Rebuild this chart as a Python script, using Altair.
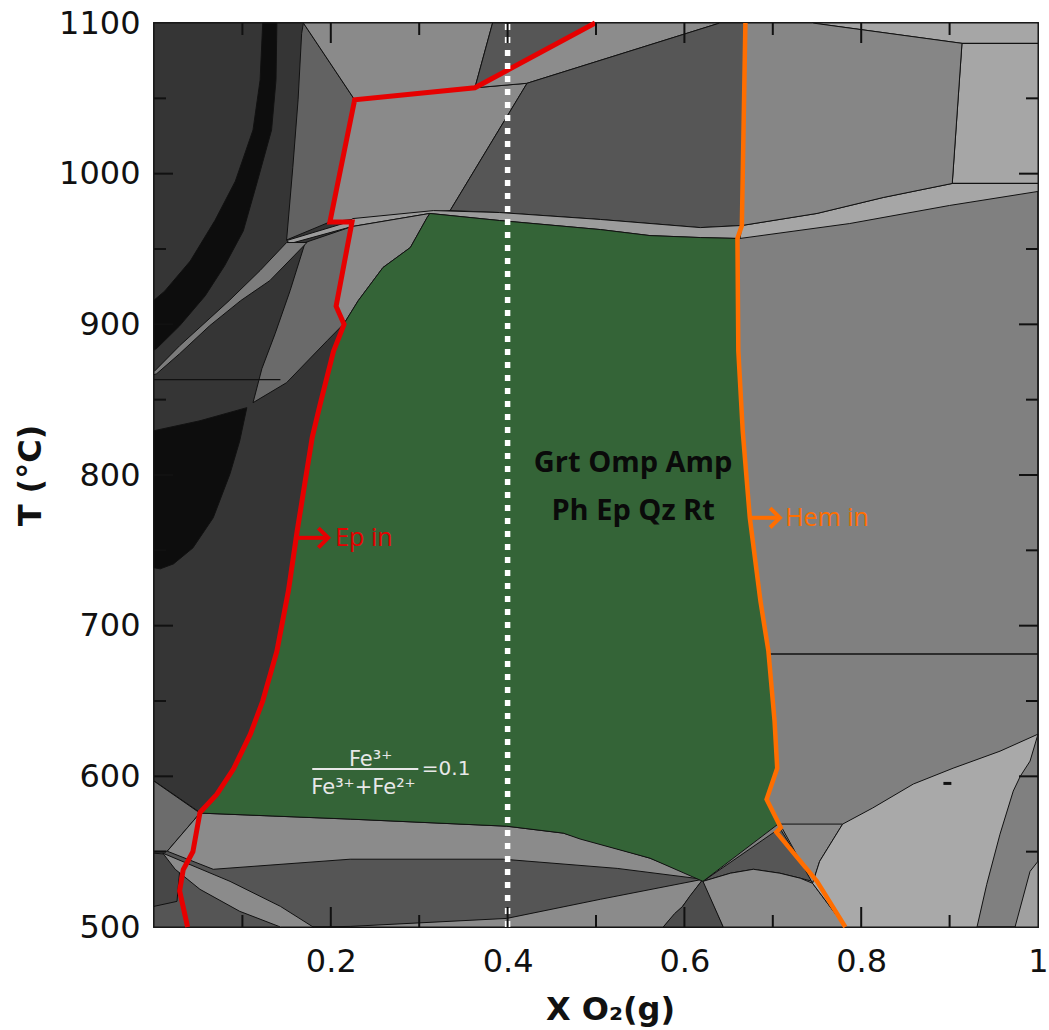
import altair as alt
import pandas as pd

# ---------------- axis data ----------------
X_DOMAIN = [0, 1]
T_DOMAIN = [500, 1100]
X_LABELS = [0.2, 0.4, 0.6, 0.8, 1.0]
T_LABELS = [500, 600, 700, 800, 900, 1000, 1100]
X_MAJOR_TICKS = [0.2, 0.4, 0.6, 0.8]
X_MINOR_TICKS = [0.1, 0.3, 0.5, 0.7, 0.9]
T_MAJOR_TICKS = [600, 700, 800, 900, 1000]
T_MINOR_TICKS = [550, 650, 750, 850, 950, 1050]

# ---------------- phase-field polygons (X O2, T degC) ----------------
LEFT_DARK = [(0, 1100), (0.169, 1100), (0.227, 1049), (0.199, 968), (0.224, 968), (0.206, 912), (0.215, 900),
             (0.203, 882), (0.188, 847), (0.179, 825), (0.162, 763), (0.152, 723), (0.139, 683), (0.123, 650),
             (0.109, 628), (0.090, 605), (0.071, 588), (0.052, 576), (0, 597)]
BLACK_BAND = [(0.123, 1100), (0.120, 1062), (0.112, 1029), (0.092, 995), (0.069, 969), (0.041, 942), (0.012, 922),
              (0, 916), (0, 883), (0.003, 884), (0.029, 899), (0.058, 919), (0.080, 939), (0.101, 962),
              (0.117, 995), (0.133, 1029), (0.138, 1062), (0.139, 1100)]
FIELD_B = [(0.169, 1100), (0.227, 1049), (0.199, 968), (0.150, 956), (0.157, 1004), (0.163, 1049), (0.167, 1093)]
FIELD_A = [(0.169, 1100), (0.383, 1100), (0.363, 1057), (0.422, 1060), (0.335, 975.5), (0.316, 975),
           (0.224, 969.6), (0.199, 968), (0.227, 1049)]
FIELD_E = [(0.383, 1100), (0.499, 1100), (0.363, 1057)]
FIELD_F = [(0.363, 1057), (0.499, 1100), (0.640, 1100), (0.422, 1060)]
FIELD_C = [(0.422, 1060), (0.640, 1100), (0.669, 1100), (0.665, 965.6), (0.618, 964.2), (0.505, 969.6),
           (0.391, 974.2), (0.335, 975.5)]
FIELD_TR = [(0.745, 1100), (1, 1100), (1, 988.2), (0.900, 978.9), (0.787, 966.9), (0.663, 957.0), (0.665, 965.6),
            (0.750, 973.6), (0.825, 984.2), (0.903, 993.5), (0.914, 1086.5)]
FIELD_D = [(0.669, 1100), (0.745, 1100), (0.914, 1086.5), (0.903, 993.5), (0.825, 984.2), (0.750, 973.6),
           (0.665, 965.6)]
BAND = [(0.150, 955.6), (0.218, 967.6), (0.225, 970.2), (0.316, 975.5), (0.391, 974.2), (0.505, 969.6),
        (0.618, 964.2), (0.665, 965.6), (0.660, 957), (0.618, 957.6), (0.561, 958.9), (0.505, 962.9),
        (0.391, 968.9), (0.312, 973.6), (0.224, 964.9), (0.154, 953.6)]
FIELD_M = [(0.224, 964.9), (0.312, 973.6), (0.309, 970.9), (0.290, 951.0), (0.259, 937.7), (0.231, 915.7),
           (0.215, 900.5), (0.206, 912.4)]
FIELD_L = [(0.171, 954.3), (0.224, 964.9), (0.206, 912.4), (0.215, 900.5), (0.196, 889.2), (0.150, 861.3),
           (0.112, 848.0), (0.122, 870.5), (0.137, 893.8), (0.154, 922.4)]
DIAG = [(0.150, 954.3), (0.173, 954.3), (0.131, 929.0), (0.098, 915.7), (0.063, 899.1), (0.029, 880.5),
        (0.003, 867.2), (0, 866.6), (0, 868.6), (0.029, 885.8), (0.085, 915.7), (0.120, 935.7)]
BLOB = [(0, 829.4), (0.052, 836.0), (0.105, 844.7), (0.097, 822.7), (0.086, 800.8), (0.067, 771.6),
        (0.044, 751.6), (0.022, 741.0), (0.007, 737.7), (0, 738.4)]
BOTTOM_BASE = [(0, 596.8), (0.052, 575.6), (0.222, 571.6), (0.399, 566.9), (0.463, 562.3), (0.561, 545.7),
               (0.621, 531.7), (0.644, 500), (0, 500)]
BL_SMALL = [(0, 596.8), (0.052, 575.6), (0.015, 550.3), (0, 550.3)]
BL_DARK = [(0, 549), (0.012, 548.4), (0.029, 537), (0.026, 517), (0, 513.7)]
FIELD_O = [(0.052, 575.6), (0.222, 571.6), (0.399, 566.9), (0.463, 562.3), (0.561, 545.7), (0.621, 531.7),
           (0.524, 538.9), (0.395, 545.0), (0.222, 545.0), (0.067, 538.3), (0.015, 550.3)]
FIELD_Q = [(0.180, 500), (0.222, 500.4), (0.399, 505.7), (0.505, 518.4), (0.621, 531.7), (0.598, 513.7),
           (0.576, 500)]
DIAG_BL = [(0.010, 549.0), (0.086, 530.3), (0.143, 513.7), (0.180, 500), (0.143, 500), (0.097, 510.4),
           (0.052, 525.0), (0.024, 538.3)]
FIELD_R = [(0.621, 531.7), (0.644, 500), (0.576, 500), (0.589, 509.0), (0.598, 513.7), (0.606, 520.4)]
FIELD_S = [(0.621, 530.3), (0.708, 565.6), (0.745, 530.3), (0.731, 532.4), (0.708, 535.7), (0.678, 538.3),
           (0.652, 535.7)]
FIELD_T = [(0.621, 530.3), (0.652, 535.7), (0.678, 538.3), (0.708, 535.7), (0.731, 532.4), (0.745, 529.0),
           (0.782, 500), (0.644, 500)]
FIELD_T2 = [(0.708, 568.3), (0.779, 568.3), (0.753, 543.6), (0.745, 529.0)]
FIELD_U = [(0.779, 568.3), (0.813, 579.0), (0.859, 594.9), (0.904, 605.4), (0.957, 616.7), (1, 628.0),
           (0.991, 610.1), (0.980, 600.1), (0.972, 590.2), (0.957, 561.6), (0.942, 528.3), (0.931, 500),
           (0.782, 500), (0.745, 529.0), (0.753, 543.6)]
BR_SLIVER = [(0.991, 536.9), (1, 543.6), (1, 500), (0.974, 500)]
GREEN_FIELD = [(0.052, 575.6), (0.071, 588), (0.090, 605), (0.109, 628), (0.123, 650), (0.139, 683), (0.152, 723),
               (0.162, 763), (0.179, 825), (0.188, 847), (0.203, 882), (0.215, 900.5), (0.231, 915.7),
               (0.259, 937.7), (0.290, 951.0), (0.309, 970.9), (0.312, 973.6), (0.391, 968.9), (0.505, 962.9),
               (0.561, 958.9), (0.618, 957.6), (0.660, 957), (0.661, 882.4), (0.666, 829), (0.674, 771.6),
               (0.686, 716.4), (0.695, 683.2), (0.702, 636.7), (0.705, 605.4), (0.693, 584.8), (0.706, 568.3),
               (0.621, 530.3), (0.561, 545.7), (0.482, 558.4), (0.463, 562.3), (0.399, 566.9), (0.222, 571.6)]

# extra boundary segments
H_LINE_LEFT = [(0, 863.3), (0.143, 863.3)]
H_LINE_RIGHT = [(0.697, 681.2), (1, 681.2)]
TR_LINE_1 = [(0.914, 1086.5), (1, 1086.5)]
TR_LINE_2 = [(0.903, 993.5), (1, 993.5)]
SMALL_DASH = [(0.893, 595.3), (0.902, 595.3)]

# reaction lines
EP_IN_LINE = [(0.499, 1100), (0.363, 1057), (0.227, 1049), (0.199, 968), (0.224, 968), (0.206, 912), (0.215, 900),
              (0.203, 882), (0.188, 847), (0.179, 825), (0.162, 763), (0.152, 723), (0.139, 683), (0.123, 650),
              (0.109, 628), (0.090, 605), (0.071, 588), (0.052, 576), (0.044, 550), (0.033, 538), (0.029, 524),
              (0.038, 500)]
HEM_IN_LINE = [(0.669, 1100), (0.665, 965.6), (0.660, 957), (0.661, 882.4), (0.666, 829), (0.674, 771.6),
               (0.686, 716.4), (0.695, 683.2), (0.702, 636.7), (0.705, 605.4), (0.693, 584.8), (0.709, 566),
               (0.704, 563), (0.750, 530.3), (0.782, 500)]
DOTTED_X = 0.4

# arrows (x start, x tip, T)
EP_ARROW = (0.161, 0.197, 758.3)
HEM_ARROW = (0.674, 0.708, 771.6)

# labels
FIELD_LABEL = [("Grt Omp Amp", 0.542, 808), ("Ph Ep Qz Rt", 0.542, 776)]
EP_LABEL = ("Ep in", 0.205, 758.3)
HEM_LABEL = ("Hem in", 0.714, 771.6)
FRAC_NUM = ("Fe³⁺", 0.245, 607)
FRAC_DEN = ("Fe³⁺+Fe²⁺", 0.237, 588.5)
FRAC_BAR = (0.179, 0.299, 604.8)
FRAC_EQ = ("=0.1", 0.303, 604.8)

# ---------------- chart ----------------
W, H = 884, 904
xs = alt.Scale(domain=X_DOMAIN, nice=False, zero=False)
ys = alt.Scale(domain=T_DOMAIN, nice=False, zero=False)

RED = "#e60000"
ORANGE = "#ff6e00"

x_axis = alt.Axis(values=X_LABELS, labelExpr="datum.value == 1 ? '1' : format(datum.value, '.1f')",
                  title="X O₂(g)", ticks=False, tickSize=0, domain=False, grid=False,
                  labelFont="DejaVu Sans", labelFontSize=32, labelColor="#111111", labelPadding=19,
                  labelFlush=False, titleFont="DejaVu Sans", titleFontSize=32, titleFontWeight="bold",
                  titleColor="#111111", titleX=456, titleY=92, titleAlign="center", titleBaseline="alphabetic")
y_axis = alt.Axis(values=T_LABELS, format="d", title="T (°C)", ticks=False, tickSize=0, domain=False, grid=False,
                  labelFont="DejaVu Sans", labelFontSize=32, labelColor="#111111", labelPadding=14,
                  labelFlush=False, titleFont="DejaVu Sans", titleFontSize=32, titleFontWeight="bold",
                  titleColor="#111111", titleX=-124, titleY=452, titleAngle=270, titleAlign="center",
                  titleBaseline="middle")


def pts_df(pts, close=False):
    pts = list(pts) + ([pts[0]] if close else [])
    return pd.DataFrame({"x": [p[0] for p in pts], "y": [p[1] for p in pts], "i": list(range(len(pts)))})


def X():
    return alt.X("x:Q", scale=xs, axis=x_axis)


def Y():
    return alt.Y("y:Q", scale=ys, axis=y_axis)


def poly(pts, fill):
    return alt.Chart(pts_df(pts, close=True)).mark_line(
        fill=fill, stroke="#111111", strokeWidth=1, strokeJoin="round"
    ).encode(x=X(), y=Y(), order=alt.Order("i:Q"))


def path(pts, color, width, dash=None):
    kw = dict(stroke=color, strokeWidth=width, strokeJoin="miter")
    if dash:
        kw["strokeDash"] = dash
    return alt.Chart(pts_df(pts)).mark_line(**kw).encode(x=X(), y=Y(), order=alt.Order("i:Q"))


layers = [
    poly(LEFT_DARK, "#353535"),
    poly(BLACK_BAND, "#0d0d0d"),
    poly(FIELD_B, "#626262"),
    poly(FIELD_A, "#8a8a8a"),
    poly(FIELD_E, "#565656"),
    poly(FIELD_F, "#8c8c8c"),
    poly(FIELD_C, "#565656"),
    poly(FIELD_TR, "#a6a6a6"),
    poly(FIELD_D, "#868686"),
    poly(BAND, "#9c9c9c"),
    poly(FIELD_M, "#8a8a8a"),
    poly(FIELD_L, "#6a6a6a"),
    poly(DIAG, "#7c7c7c"),
    poly(BLOB, "#0d0d0d"),
    poly(BOTTOM_BASE, "#555555"),
    poly(BL_SMALL, "#6c6c6c"),
    poly(BL_DARK, "#474747"),
    poly(FIELD_O, "#8b8b8b"),
    poly(FIELD_Q, "#8b8b8b"),
    poly(DIAG_BL, "#8b8b8b"),
    poly(FIELD_R, "#4d4d4d"),
    poly(FIELD_S, "#565656"),
    poly(FIELD_T, "#8c8c8c"),
    poly(FIELD_T2, "#8a8a8a"),
    poly(FIELD_U, "#a9a9a9"),
    poly(BR_SLIVER, "#a0a0a0"),
    poly(GREEN_FIELD, "#346437"),
    path(H_LINE_LEFT, "#111111", 1.2),
    path(H_LINE_RIGHT, "#111111", 1.5),
    path(TR_LINE_1, "#111111", 1.2),
    path(TR_LINE_2, "#111111", 1.2),
    path(SMALL_DASH, "#111111", 3),
    path(EP_IN_LINE, RED, 5),
    path(HEM_IN_LINE, ORANGE, 4.5),
]

# dotted white line
layers.append(
    alt.Chart(pd.DataFrame({"x": [DOTTED_X], "y": [T_DOMAIN[0]], "y2": [T_DOMAIN[1]]}))
    .mark_rule(color="white", strokeWidth=5.5, strokeDash=[6, 7])
    .encode(x=X(), y=Y(), y2="y2:Q")
)

# arrows
for (x0, x1, t), col in [(EP_ARROW, RED), (HEM_ARROW, ORANGE)]:
    layers.append(
        alt.Chart(pd.DataFrame({"x": [x0], "x2": [x1 - 0.003], "y": [t]}))
        .mark_rule(color=col, strokeWidth=4)
        .encode(x=X(), x2="x2:Q", y=Y())
    )
    layers.append(
        alt.Chart(pd.DataFrame({"x": [x1], "y": [t]}))
        .mark_point(shape="M-1,-1L0,0L-1,1", size=380, filled=False, strokeWidth=4, color=col, opacity=1)
        .encode(x=X(), y=Y())
    )


def text(items, **kw):
    df = pd.DataFrame({"t": [i[0] for i in items], "x": [i[1] for i in items], "y": [i[2] for i in items]})
    return alt.Chart(df).mark_text(**kw).encode(x=X(), y=Y(), text="t:N")


layers.append(text(FIELD_LABEL, font="Open Sans", fontSize=29, fontWeight="bold", color="#0a0a0a",
                   align="center", baseline="middle"))
layers.append(text([EP_LABEL], font="Open Sans", fontSize=25, color=RED, align="left", baseline="middle"))
layers.append(text([HEM_LABEL], font="Open Sans", fontSize=25, color=ORANGE, align="left", baseline="middle"))
layers.append(text([FRAC_NUM], font="DejaVu Sans", fontSize=21, color="#e8e8e8", align="center",
                   baseline="alphabetic"))
layers.append(text([FRAC_DEN], font="DejaVu Sans", fontSize=21, color="#e8e8e8", align="center",
                   baseline="alphabetic"))
layers.append(text([FRAC_EQ], font="DejaVu Sans", fontSize=20, color="#e8e8e8", align="left", baseline="middle"))
layers.append(
    alt.Chart(pd.DataFrame({"x": [FRAC_BAR[0]], "x2": [FRAC_BAR[1]], "y": [FRAC_BAR[2]]}))
    .mark_rule(color="#e8e8e8", strokeWidth=2)
    .encode(x=X(), x2="x2:Q", y=Y())
)


# inward ticks
def xticks(vals, length):
    df = pd.DataFrame({"x": vals})
    out = []
    for y0, y1 in [(H, H - length), (0, length)]:
        out.append(alt.Chart(df).mark_rule(color="#111111", strokeWidth=2)
                   .encode(x=X(), y=alt.value(y0), y2=alt.value(y1)))
    return out


def yticks(vals, length):
    df = pd.DataFrame({"y": vals})
    out = []
    for x0, x1 in [(0, length), (W, W - length)]:
        out.append(alt.Chart(df).mark_rule(color="#111111", strokeWidth=2)
                   .encode(y=Y(), x=alt.value(x0), x2=alt.value(x1)))
    return out


layers += xticks(X_MAJOR_TICKS, 20) + xticks(X_MINOR_TICKS, 12)
layers += yticks(T_MAJOR_TICKS, 19) + yticks(T_MINOR_TICKS, 12)

chart = (
    alt.layer(*layers)
    .properties(width=W, height=H, padding={"left": 154, "top": 23, "right": 11, "bottom": 103},
                autosize=alt.AutoSizeParams(type="none"), background="white")
    .configure_view(fill="#808080", stroke="#222222", strokeWidth=2)
)

chart.save("out.html", embed_options={"renderer": "svg", "actions": False})
